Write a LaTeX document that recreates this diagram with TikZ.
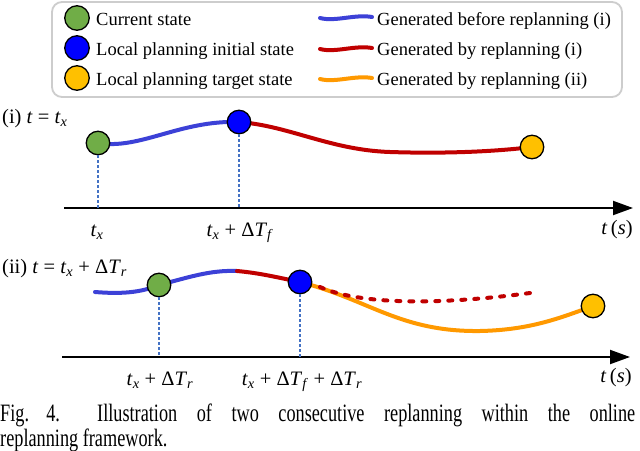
\documentclass[tikz,border=0pt]{standalone}
\usepackage{fontspec}
\usepackage{amsmath}
\usepackage{graphicx}
\setmainfont{Liberation Serif}
\usetikzlibrary{arrows.meta}
\pgfdeclarelayer{background}
\pgfsetlayers{background,main}
\definecolor{cgreen}{RGB}{112,173,71}
\definecolor{cblue}{RGB}{0,0,255}
\definecolor{cyel}{RGB}{255,192,0}
\definecolor{lblue}{RGB}{60,65,215}
\definecolor{lred}{RGB}{192,0,0}
\definecolor{lorange}{RGB}{255,153,0}
\definecolor{vblue}{RGB}{68,114,196}
\definecolor{boxgray}{RGB}{205,205,205}
\newcommand\mtx{\textit{t}\textsubscript{\textit{x}}}
\newcommand\mdT[1]{Δ\textit{T}\textsubscript{\textit{#1}}}
\begin{document}
\begin{tikzpicture}[x=1pt,y=-1pt,
 sdot/.style={circle,draw=black,line width=1.3pt,minimum size=23.5pt,inner sep=0pt},
 gdot/.style={sdot,fill=cgreen}, bdot/.style={sdot,fill=cblue}, odot/.style={sdot,fill=cyel},
 ldot/.style={minimum size=24.5pt},
 mcurve/.style={line width=4pt,line cap=round},
 bluec/.style={mcurve,draw=lblue}, redc/.style={mcurve,draw=lred}, orc/.style={mcurve,draw=lorange},
 reddash/.style={line width=4pt,draw=lred,line cap=round,dash pattern=on 4pt off 9pt},
 vline/.style={draw=vblue,line width=1.3pt,dash pattern=on 3pt off 2pt},
 axisline/.style={draw=black,line width=2pt,-{Triangle[length=20pt,width=14pt]}},
 lab/.style={font=\fontsize{20.5}{24}\selectfont,inner sep=0pt,anchor=base},
 labw/.style={lab,anchor=base west},
 legtxt/.style={font=\fontsize{18.5}{22}\selectfont,inner sep=0pt,anchor=base west},
 captxt/.style={font=\fontsize{25}{30}\selectfont,inner sep=0pt,anchor=base west},
 legbox/.style={draw=boxgray,line width=1.8pt,rounded corners=10pt}
]
\useasboundingbox (0,0) rectangle (640,450);
\begin{pgfonlayer}{background}
\fill[white] (0,0) rectangle (640,450);
\end{pgfonlayer}

% legend
\draw[legbox] (52,2) rectangle (622,97);
\node[gdot,ldot] (lg) at (77,18) {};
\node[bdot,ldot] (lb) at (77,48) {};
\node[odot,ldot] (lo) at (77,78) {};
\node[legtxt] (lt1) at (96,25) {Current state};
\node[legtxt] (lt2) at (96,55) {Local planning initial state};
\node[legtxt] (lt3) at (96,85) {Local planning target state};
\coordinate (s1a) at (320,18); \coordinate (s1b) at (372,17);
\coordinate (s2a) at (320,49); \coordinate (s2b) at (372,48);
\coordinate (s3a) at (320,79); \coordinate (s3b) at (372,78);
\draw[bluec] (s1a) .. controls (335,22) and (355,14) .. (s1b);
\draw[redc] (s2a) .. controls (335,53) and (355,45) .. (s2b);
\draw[orc] (s3a) .. controls (335,83) and (355,75) .. (s3b);
\node[legtxt] (lt4) at (377,25) {Generated before replanning (i)};
\node[legtxt] (lt5) at (377,55) {Generated by replanning (i)};
\node[legtxt] (lt6) at (377,85) {Generated by replanning (ii)};

% part (i)
\node[labw] (hi) at (2,123) {(i) \textit{t} = \mtx};
\node[gdot] (g1) at (98,143) {};
\node[bdot] (b1) at (239,122) {};
\node[odot] (o1) at (532,147) {};
\begin{pgfonlayer}{background}
\draw[bluec] (g1.center) .. controls (140,150) and (180,120) .. (b1.center);
\draw[redc] (b1.center) .. controls (290,126) and (330,150) .. (390,152)
   .. controls (450,154) and (500,151) .. (o1.center);
\end{pgfonlayer}
\coordinate (a1s) at (64,208);
\coordinate (a1e) at (633,208);
\draw[axisline] (a1s) -- (a1e);
\draw[vline] (g1.south) -- (g1.south |- a1s);
\draw[vline] (b1.south) -- (b1.south |- a1s);
\node[lab] (l1) at (97,236) {\mtx};
\node[lab] (l2) at (240,236) {\mtx{} + \mdT{f}};
\node[lab] (l3) at (617,234) {\textit{t}\,(\textit{s})};

% part (ii)
\node[labw] (hii) at (2,273) {(ii) \textit{t} = \mtx{} + \mdT{r}};
\node[gdot] (g2) at (159,285) {};
\node[bdot] (b2) at (300,282) {};
\node[odot] (o2) at (593,306) {};
\coordinate (s2) at (95,292);
\coordinate (p2) at (237,271);
\coordinate (d1) at (320,287);
\coordinate (d2) at (530,293);
\begin{pgfonlayer}{background}
\draw[bluec] (s2) .. controls (120,294) and (140,293) .. (g2.center)
   .. controls (190,277) and (210,270) .. (p2);
\draw[redc] (p2) .. controls (260,273) and (280,278) .. (b2.center);
\draw[orc] (b2.center) .. controls (370,300) and (400,332) .. (480,331)
   .. controls (530,330) and (560,318) .. (o2.center);
\draw[reddash] (d1) .. controls (360,305) and (440,305) .. (d2);
\end{pgfonlayer}
\coordinate (a2s) at (62,357);
\coordinate (a2e) at (630,357);
\draw[axisline] (a2s) -- (a2e);
\draw[vline] (g2.south) -- (g2.south |- a2s);
\draw[vline] (b2.south) -- (b2.south |- a2s);
\node[lab] (l4) at (160,385) {\mtx{} + \mdT{r}};
\node[lab] (l5) at (302,385) {\mtx{} + \mdT{f} + \mdT{r}};
\node[lab] (l6) at (616,382) {\textit{t}\,(\textit{s})};

% caption
\node[captxt] (c1) at (0,421) {\scalebox{0.73}[1]{\makebox[82pt][s]{Fig. 4.}}};
\node[captxt] (c2) at (97,421) {\scalebox{0.73}[1]{\makebox[737pt][s]{Illustration of two consecutive replanning within the online}}};
\node[captxt] (c3) at (0,446) {\scalebox{0.73}[1]{replanning framework.}};
\end{tikzpicture}
\end{document}
